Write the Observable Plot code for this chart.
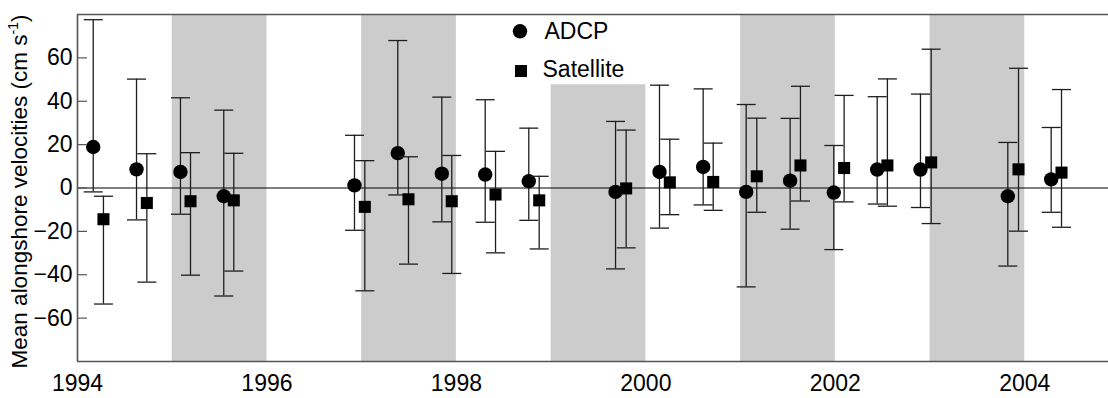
<!DOCTYPE html>
<html><head><meta charset="utf-8">
<script src="https://cdn.jsdelivr.net/npm/d3@7"></script>
<script src="https://cdn.jsdelivr.net/npm/@observablehq/plot@0.6"></script>
<style>body{margin:0;background:#fff} svg{display:block}</style>
</head><body><div id="chart"></div>
<script>
// ADCP series
const adcpX   = [1994.166, 1994.623, 1995.087, 1995.544, 1996.924, 1997.381, 1997.846, 1998.304, 1998.764, 1999.680, 2000.144, 2000.605, 2001.059, 2001.523, 2001.984, 2002.442, 2002.899, 2003.821, 2004.279];
const adcpMean= [18.9, 8.6, 7.4, -3.8, 1.2, 16.1, 6.6, 6.2, 3.1, -1.8, 7.4, 9.7, -1.8, 3.4, -2.1, 8.5, 8.5, -3.8, 4.0];
const adcpHi  = [77.6, 50.2, 41.6, 35.9, 24.3, 68.0, 41.9, 40.7, 27.6, 30.7, 47.4, 45.7, 38.5, 32.1, 19.6, 42.1, 43.3, 21.0, 27.9];
const adcpLo  = [-1.8, -14.7, -12.1, -49.8, -19.5, -3.2, -15.6, -15.8, -14.9, -37.3, -18.5, -7.8, -45.6, -19.0, -28.4, -7.4, -9.0, -36.0, -11.2];
// Satellite series
const satX    = [1994.274, 1994.732, 1995.193, 1995.650, 1997.033, 1997.494, 1997.951, 1998.413, 1998.874, 1999.792, 2000.253, 2000.711, 2001.171, 2001.632, 2002.093, 2002.550, 2003.012, 2003.934, 2004.388];
const satMean = [-14.4, -6.9, -6.1, -5.7, -8.7, -5.2, -6.1, -3.0, -5.7, -0.2, 2.6, 2.8, 5.4, 10.4, 9.2, 10.4, 11.8, 8.6, 7.1];
const satHi   = [-3.8, 15.8, 16.3, 16.0, 12.6, 14.4, 15.0, 16.9, 5.4, 26.7, 22.5, 20.7, 32.2, 46.9, 42.7, 50.3, 64.0, 55.2, 45.4];
const satLo   = [-53.5, -43.4, -40.2, -38.3, -47.4, -35.1, -39.4, -29.9, -28.1, -27.6, -12.3, -10.3, -11.2, -6.0, -6.4, -8.4, -16.4, -19.9, -18.1];
// Shaded periods
const bandStart = [1995, 1997, 1999, 2001, 2003];
const bandEnd   = [1996, 1998, 2000, 2002, 2004];
const bandTop   = [80, 80, 47.6, 80, 80];
// Axes
const xTicks = [1994, 1996, 1998, 2000, 2002, 2004];
const yTicks = [-60, -40, -20, 0, 20, 40, 60];
const xDomain = [1994, 2004.884];
const yDomain = [-80, 80];
const seriesNames = ["ADCP", "Satellite"];

const adcp = adcpX.map((x, i) => ({x, mean: adcpMean[i], hi: adcpHi[i], lo: adcpLo[i]}));
const sat = satX.map((x, i) => ({x, mean: satMean[i], hi: satHi[i], lo: satLo[i]}));
const bands = bandStart.map((s, i) => ({start: s, end: bandEnd[i], top: bandTop[i], bottom: yDomain[0]}));

const cap = {draw(ctx, size) { const r = Math.sqrt(size / Math.PI); ctx.moveTo(-r, 0); ctx.lineTo(r, 0); }};
const barColor = "#1e1e1e";
const sw = 1.3;
const FS = 23;

function errorMarks(data, symbol, r) {
  return [
    Plot.ruleX(data, {x: "x", y1: "lo", y2: "hi", stroke: barColor, strokeWidth: sw}),
    Plot.dot(data, {x: "x", y: "hi", symbol: cap, r: 9.5, stroke: barColor, strokeWidth: sw}),
    Plot.dot(data, {x: "x", y: "lo", symbol: cap, r: 9.5, stroke: barColor, strokeWidth: sw}),
    Plot.dot(data, {x: "x", y: "mean", symbol, r, fill: "#000", stroke: "none"})
  ];
}

const chart = Plot.plot({
  width: 1108, height: 398,
  marginLeft: 77, marginRight: 0, marginTop: 14, marginBottom: 37,
  x: {domain: xDomain},
  y: {domain: yDomain},
  style: {fontFamily: "'Liberation Sans', Arial, sans-serif", fontSize: FS + "px", background: "#fff", color: "#000"},
  marks: [
    Plot.rect(bands, {x1: "start", x2: "end", y1: "bottom", y2: "top", fill: "#cccccc"}),
    Plot.ruleY([0], {stroke: "#000", strokeWidth: 1}),
    ...errorMarks(adcp, "circle", 7.2),
    ...errorMarks(sat, "square", 6.8),
    Plot.ruleX([xDomain[0]], {stroke: "#555", strokeWidth: 1.6}),
    Plot.ruleY(yDomain, {stroke: "#555", strokeWidth: 1.6}),
    Plot.axisY({ticks: yTicks, tickSize: 10, dx: 10, tickFormat: () => "", label: null, stroke: "#555", strokeWidth: 1.2}),
    Plot.axisY({ticks: yTicks, tickSize: 0, tickPadding: 5, label: null, fontSize: FS}),
    Plot.axisX({ticks: xTicks, tickSize: 0, tickPadding: 13, tickFormat: d => String(d), label: null, fontSize: FS}),
    Plot.dot([seriesNames[0]], {frameAnchor: "top-left", dx: 442.5, dy: 16.8, r: 7.2, fill: "#000", symbol: "circle"}),
    Plot.dot([seriesNames[1]], {frameAnchor: "top-left", dx: 443.5, dy: 56.5, r: 6.8, fill: "#000", symbol: "square"}),
    Plot.text([seriesNames[0]], {text: d => d, frameAnchor: "top-left", lineAnchor: "middle", dx: 467, dy: 16.8, textAnchor: "start", fontSize: FS}),
    Plot.text([seriesNames[1]], {text: d => d, frameAnchor: "top-left", lineAnchor: "middle", dx: 465, dy: 55.5, textAnchor: "start", fontSize: FS})
  ]
});
document.getElementById("chart").append(chart);

// Y-axis title with superscript
const svg = d3.select(chart);
const t = svg.append("text")
  .attr("transform", "translate(27,191.5) rotate(-90)")
  .attr("text-anchor", "middle")
  .attr("font-size", 22.5)
  .attr("fill", "#000");
t.append("tspan").text("Mean alongshore velocities (cm s");
t.append("tspan").attr("dy", -9).attr("font-size", 14).text("-1");
t.append("tspan").attr("dy", 9).text(")");
</script>
</body></html>
